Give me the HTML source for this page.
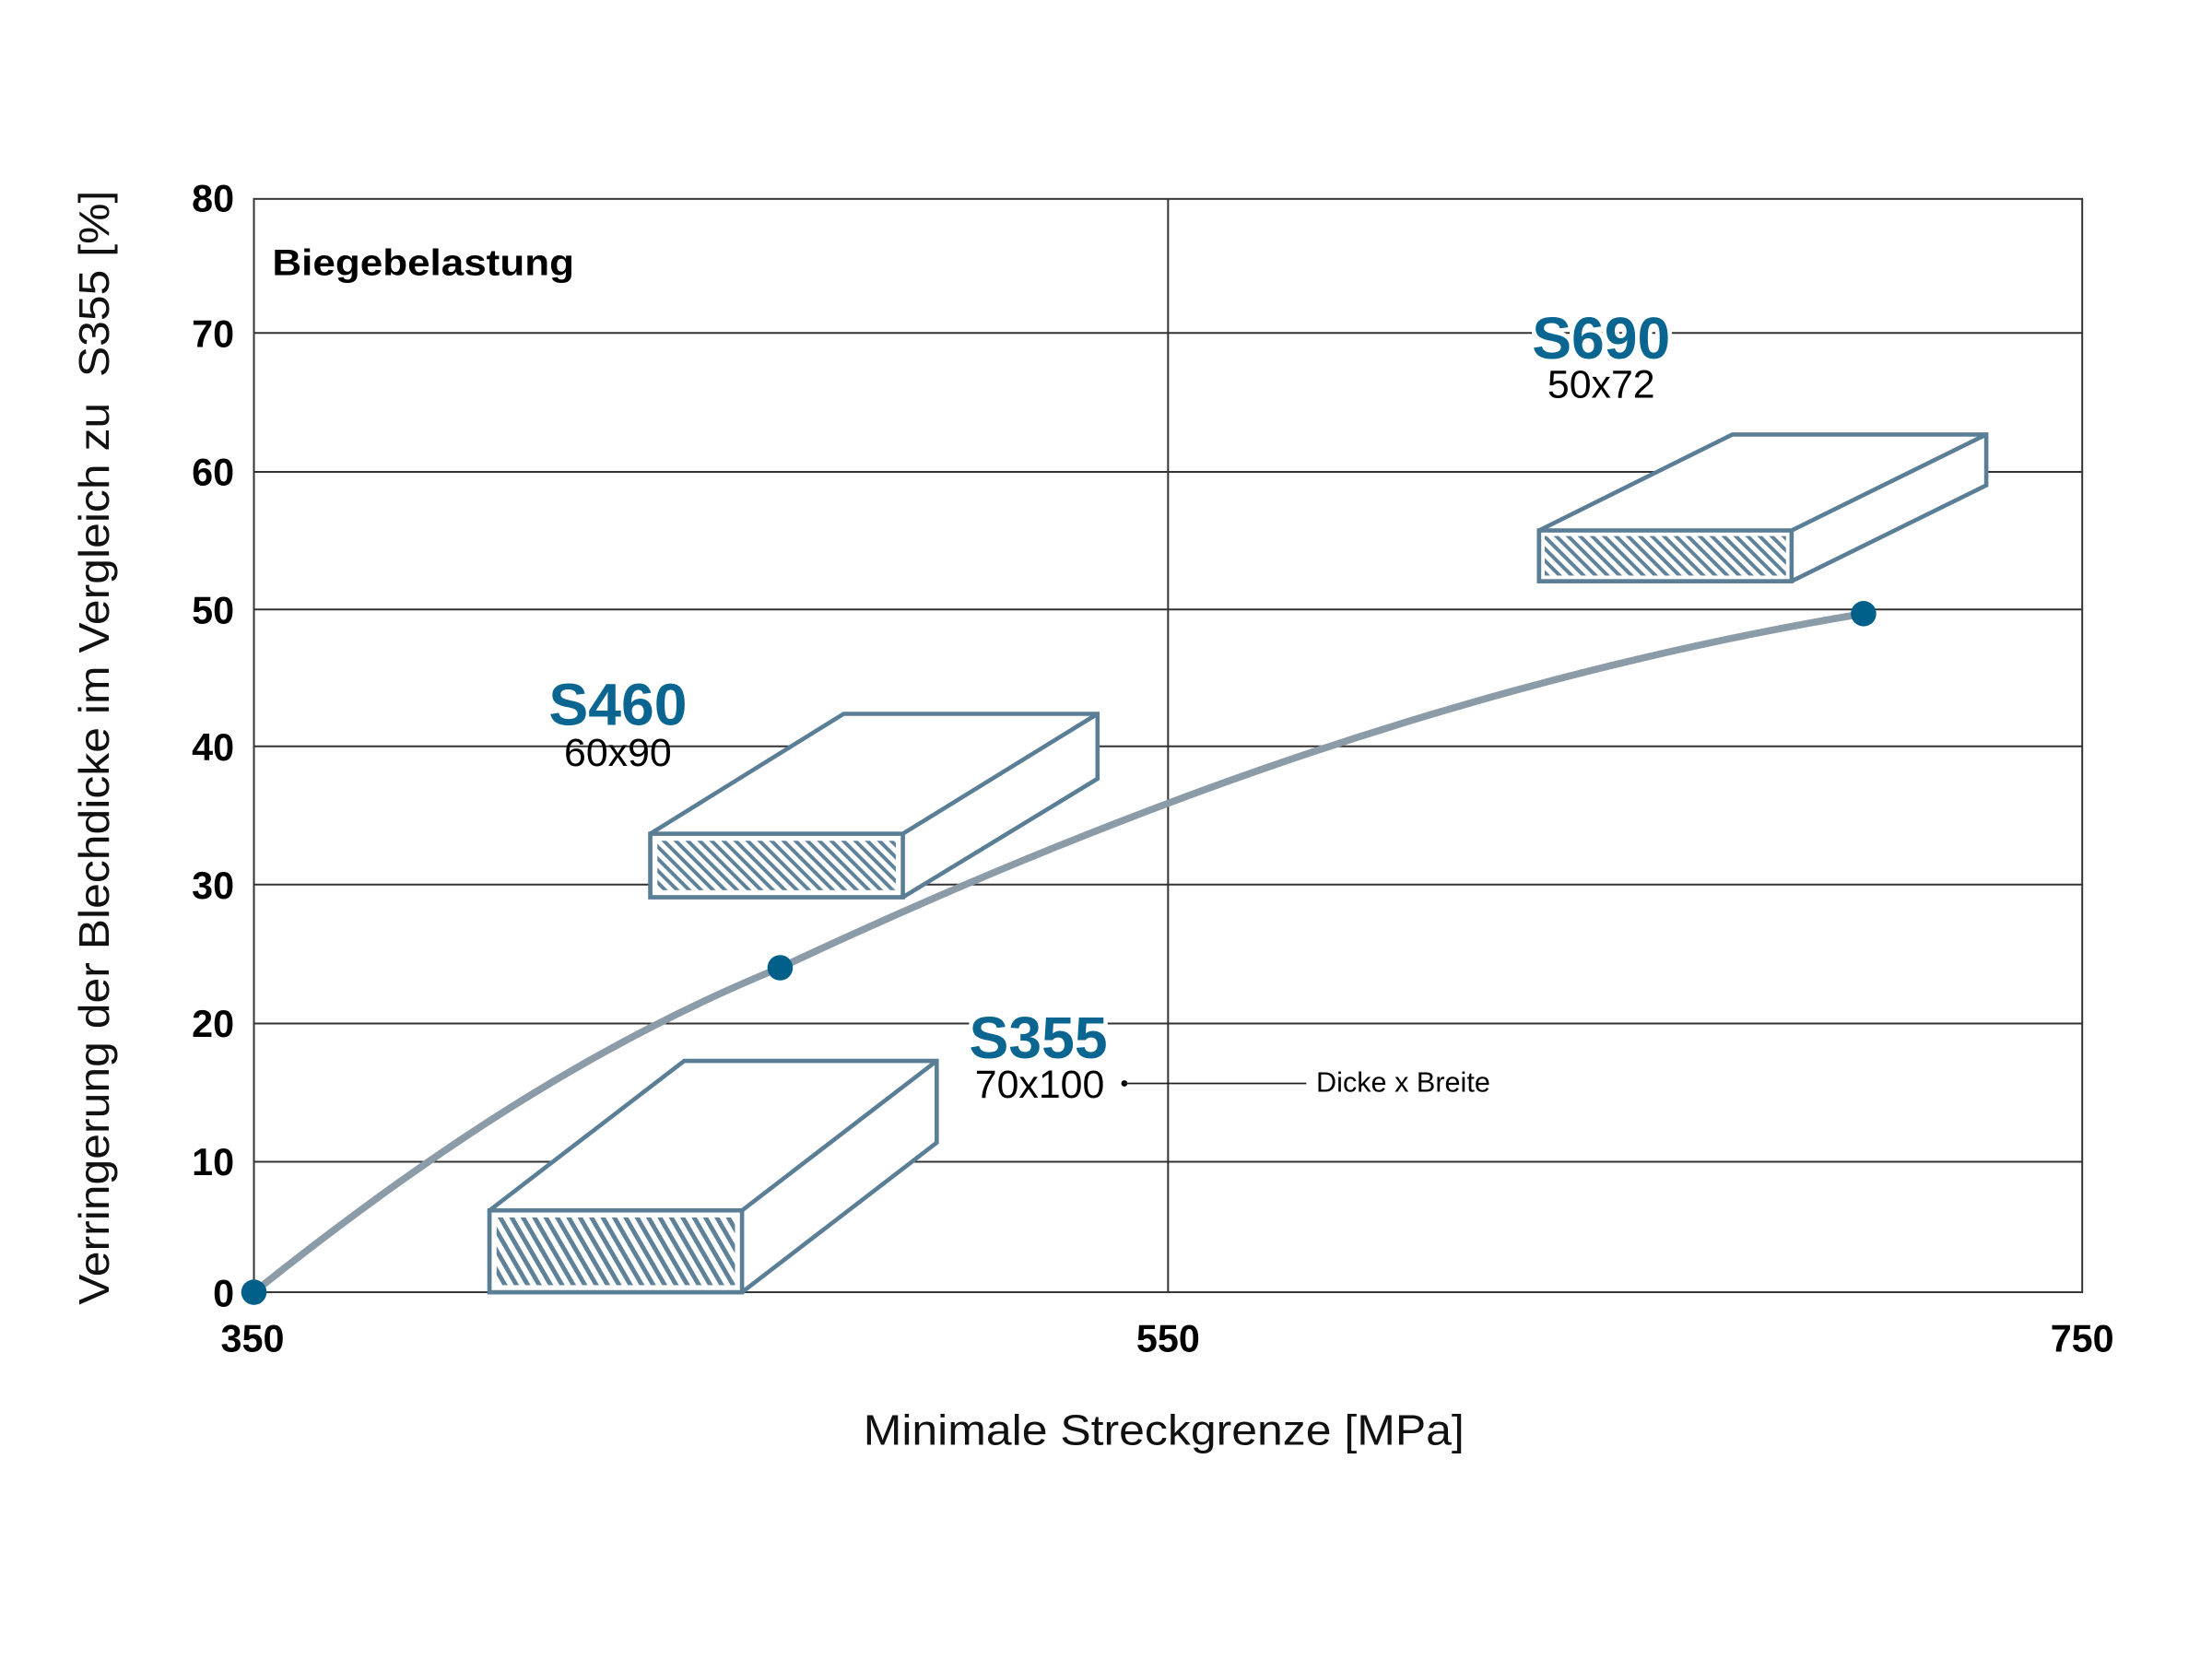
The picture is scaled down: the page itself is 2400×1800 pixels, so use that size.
<!DOCTYPE html>
<html><head><meta charset="utf-8"><style>
html,body{margin:0;padding:0;background:#fff;}
svg{display:block;}
</style></head><body>
<svg width="2400" height="1800" viewBox="0 0 1568 1176" xmlns="http://www.w3.org/2000/svg" font-family="'Liberation Sans', Arial, sans-serif">
<defs>
<pattern id="h" width="7" height="7" patternUnits="userSpaceOnUse" patternTransform="rotate(-30)">
<rect width="7" height="7" fill="#fff"/>
<rect x="0" y="0" width="3.2" height="7" fill="#5f8299"/>
</pattern>
<pattern id="h2" width="6" height="6" patternUnits="userSpaceOnUse" patternTransform="rotate(-45)">
<rect width="6" height="6" fill="#fff"/>
<rect x="0" y="0" width="2.6" height="6" fill="#5f8299"/>
</pattern>
</defs>
<rect width="1568" height="1176" fill="#fff"/>
<g stroke="#333" stroke-width="1.3" fill="none">
<line x1="180" y1="236" x2="1476" y2="236"/>
<line x1="180" y1="334.5" x2="1476" y2="334.5"/>
<line x1="180" y1="432" x2="1476" y2="432"/>
<line x1="180" y1="529" x2="1476" y2="529"/>
<line x1="180" y1="627" x2="1476" y2="627"/>
<line x1="180" y1="725.5" x2="1476" y2="725.5"/>
<line x1="180" y1="823.5" x2="1476" y2="823.5"/>
<line x1="828" y1="141" x2="828" y2="916"/>
<rect x="180" y="141" width="1296" height="775"/>
</g>
<g font-weight="bold" font-size="27" fill="#000" text-anchor="end">
<text x="166" y="150" transform="scale(1,1)">80</text>
<text x="166" y="246">70</text>
<text x="166" y="344">60</text>
<text x="166" y="442">50</text>
<text x="166" y="539">40</text>
<text x="166" y="637">30</text>
<text x="166" y="735">20</text>
<text x="166" y="833">10</text>
<text x="166" y="926">0</text>
</g>
<g font-weight="bold" font-size="27" fill="#000" text-anchor="middle">
<text x="179" y="958">350</text>
<text x="828" y="958">550</text>
<text x="1476" y="958">750</text>
</g>
<text x="193" y="195" font-weight="bold" font-size="26" textLength="214" lengthAdjust="spacingAndGlyphs">Biegebelastung</text>
<text transform="translate(77,530) rotate(-90)" text-anchor="middle" font-size="30" textLength="790" lengthAdjust="spacingAndGlyphs" fill="#111">Verringerung der Blechdicke im Vergleich zu&#160; S355 [%]</text>
<text x="825" y="1024" text-anchor="middle" font-size="30" textLength="426" lengthAdjust="spacingAndGlyphs" fill="#111">Minimale Streckgrenze [MPa]</text>
<path d="M180,916 C300,820 420,740 553,686 C800,570 1050,480 1321,435" fill="none" stroke="#8b9ba8" stroke-width="5"/>
<g stroke="#5a7e96" stroke-width="3" stroke-linejoin="miter">
<path d="M347,858 L485,752 L664,752 L664,810 L526,916 L347,916 Z" fill="#fff"/>
<line x1="526" y1="858" x2="664" y2="752"/>
<rect x="347" y="858" width="179" height="58" fill="#fff"/>
<rect x="352" y="863" width="169" height="48" fill="url(#h)" stroke="none"/>

<path d="M461,591 L598,506 L778,506 L778,552 L640,636 L461,636 Z" fill="#fff"/>
<line x1="640" y1="591" x2="778" y2="506"/>
<rect x="461" y="591" width="179" height="45" fill="#fff"/>
<rect x="466" y="596" width="169" height="35" fill="url(#h2)" stroke="none"/>

<path d="M1091,376 L1228,308 L1408,308 L1408,344 L1270,412 L1091,412 Z" fill="#fff"/>
<line x1="1270" y1="376" x2="1408" y2="308"/>
<rect x="1091" y="376" width="179" height="36" fill="#fff"/>
<rect x="1095" y="380" width="171" height="28" fill="url(#h2)" stroke="none"/>
</g>
<g fill="#00608a">
<ellipse cx="180" cy="916" rx="9" ry="9"/>
<ellipse cx="553" cy="686" rx="9" ry="9"/>
<ellipse cx="1321" cy="435" rx="9" ry="9"/>
</g>
<g font-weight="bold" font-size="42" fill="#0a6690" text-anchor="middle" stroke="#fff" stroke-width="6" paint-order="stroke">
<text x="736" y="750">S355</text>
<text x="438" y="514">S460</text>
<text x="1135" y="254">S690</text>
</g>
<g font-size="28" fill="#000" text-anchor="middle">
<text x="737" y="778">70x100</text>
<text x="438" y="543">60x90</text>
<text x="1135" y="282">50x72</text>
</g>
<circle cx="797" cy="768" r="2.2" fill="#000"/>
<line x1="797" y1="768" x2="926" y2="768" stroke="#222" stroke-width="1.2"/>
<text x="933" y="774" font-size="20" fill="#000">Dicke x Breite</text>
</svg>
</body></html>
